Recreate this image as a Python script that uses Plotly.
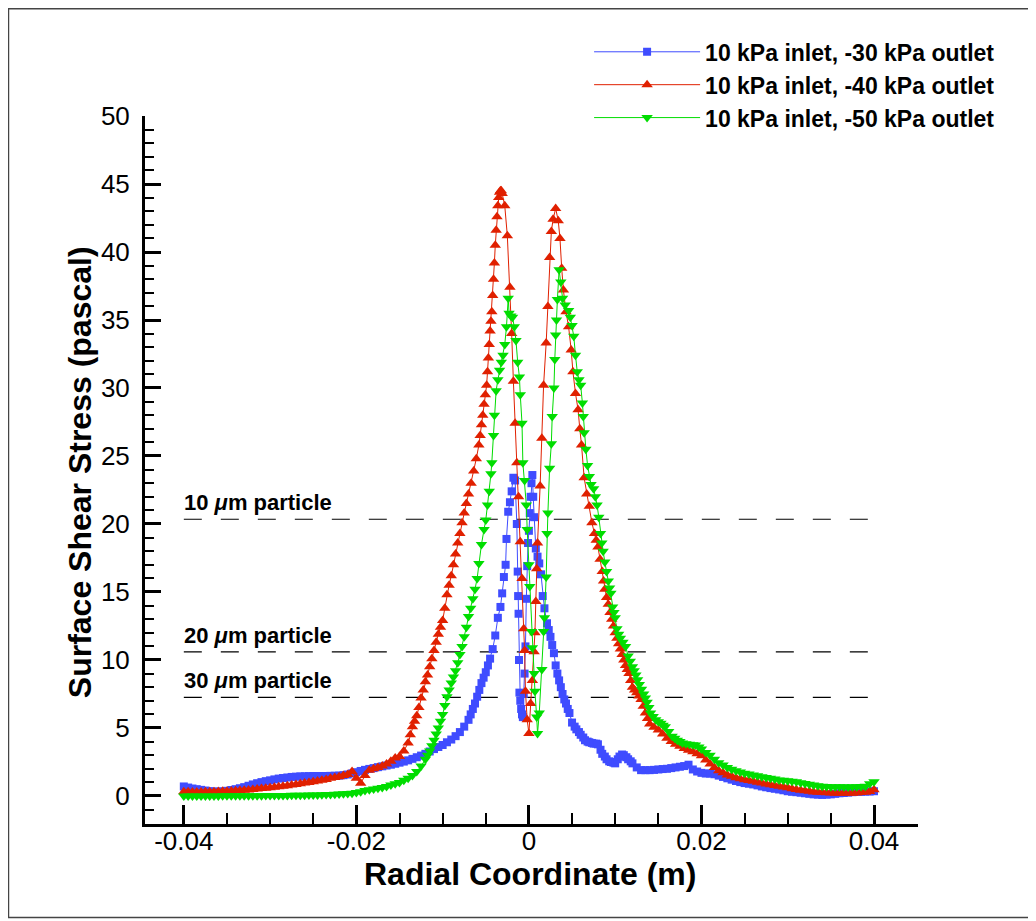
import plotly.graph_objects as go

# radial coordinate (m) and surface shear stress (Pa)
blue_x = [-0.0400, -0.0395, -0.0390, -0.0385, -0.0380, -0.0375, -0.0370, -0.0365, -0.0360, -0.0355,
          -0.0350, -0.0345, -0.0340, -0.0335, -0.0330, -0.0325, -0.0320, -0.0315, -0.0310, -0.0305,
          -0.0300, -0.0295, -0.0290, -0.0285, -0.0280, -0.0275, -0.0270, -0.0265, -0.0260, -0.0255,
          -0.0250, -0.0245, -0.0240, -0.0235, -0.0230, -0.0225, -0.0220, -0.0215, -0.0210, -0.0205,
          -0.0200, -0.0195, -0.0190, -0.0185, -0.0180, -0.0175, -0.0170, -0.0165, -0.0160, -0.0155,
          -0.0150, -0.0145, -0.0140, -0.0135, -0.0130, -0.0125, -0.0120, -0.0115, -0.0110, -0.0105,
          -0.0100, -0.0095, -0.0090, -0.0085, -0.0080, -0.0075, -0.0070, -0.00675, -0.0065, -0.00625,
          -0.0060, -0.00575, -0.0055, -0.00525, -0.0050, -0.00475, -0.0045, -0.0042, -0.0039, -0.0036,
          -0.0033, -0.0031, -0.0029, -0.0027, -0.0026, -0.0024, -0.0022, -0.0020, -0.0018, -0.0016,
          -0.0014, -0.0013, -0.00125, -0.0012, -0.00115, -0.0011, -0.0010, -0.0009, -0.0008, -0.0007,
          -0.0006, -0.0005, -0.0004, -0.0003, -0.0002, -0.0001, 0.0, 0.0001, 0.0002, 0.0003,
          0.0004, 0.0005, 0.0006, 0.0008, 0.0010, 0.0012, 0.0014, 0.0016, 0.0018, 0.0021,
          0.0023, 0.0025, 0.0027, 0.0029, 0.0031, 0.0033, 0.0035, 0.0037, 0.0039, 0.0041,
          0.0043, 0.0045, 0.0047, 0.0050, 0.0053, 0.0055, 0.0058, 0.0060, 0.0063, 0.0065,
          0.0068, 0.0070, 0.0073, 0.0075, 0.0078, 0.0080, 0.0083, 0.0085, 0.0088, 0.0090,
          0.0093, 0.0095, 0.0098, 0.0100, 0.0103, 0.0105, 0.0108, 0.0110, 0.0113, 0.0115,
          0.0118, 0.0120, 0.0125, 0.0130, 0.0135, 0.0140, 0.0145, 0.0150, 0.0155, 0.0160,
          0.0165, 0.0170, 0.0175, 0.0180, 0.0185, 0.0190, 0.0195, 0.0200, 0.0205, 0.0210,
          0.0215, 0.0220, 0.0225, 0.0230, 0.0235, 0.0240, 0.0245, 0.0250, 0.0255, 0.0260,
          0.0265, 0.0270, 0.0275, 0.0280, 0.0285, 0.0290, 0.0295, 0.0300, 0.0305, 0.0310,
          0.0315, 0.0320, 0.0325, 0.0330, 0.0335, 0.0340, 0.0345, 0.0350, 0.0355, 0.0360,
          0.0365, 0.0370, 0.0375, 0.0380, 0.0385, 0.0390, 0.0395, 0.0400]
blue_y = [0.70, 0.62, 0.55, 0.50, 0.45, 0.40, 0.35, 0.33, 0.32, 0.34,
          0.38, 0.44, 0.50, 0.57, 0.65, 0.75, 0.85, 0.94, 1.02, 1.09,
          1.15, 1.22, 1.28, 1.32, 1.36, 1.40, 1.42, 1.44, 1.45, 1.46,
          1.47, 1.47, 1.47, 1.47, 1.48, 1.49, 1.50, 1.53, 1.58, 1.66,
          1.75, 1.84, 1.92, 1.99, 2.05, 2.12, 2.18, 2.24, 2.30, 2.37,
          2.45, 2.53, 2.62, 2.73, 2.85, 2.97, 3.10, 3.27, 3.45, 3.60,
          3.75, 3.95, 4.15, 4.40, 4.70, 5.10, 5.60, 6.00, 6.40, 6.80,
          7.30, 7.80, 8.30, 8.70, 9.10, 9.60, 10.1, 10.8, 11.8, 13.1,
          13.9, 14.9, 16.1, 17.0, 18.9, 20.9, 21.6, 22.4, 23.4, 23.2,
          20.0, 16.5, 14.7, 13.4, 10.0, 7.6, 7.0, 6.4, 6.0, 5.8,
          7.5, 9.0, 11.0, 14.5, 16.9, 18.6, 19.5, 20.8, 22.0, 23.0,
          23.6, 22.0, 20.5, 18.2, 17.6, 17.1, 16.3, 14.7, 13.8, 12.7,
          12.2, 11.7, 11.1, 10.5, 9.6, 9.0, 8.5, 8.0, 7.5, 7.1,
          6.8, 6.4, 6.1, 5.4, 5.1, 4.9, 4.7, 4.5, 4.3, 4.1,
          4.0, 3.95, 3.9, 3.85, 3.85, 3.8, 3.4, 3.1, 2.9, 2.7,
          2.55, 2.5, 2.45, 2.4, 2.7, 2.9, 3.05, 3.0, 2.85, 2.7,
          2.55, 2.4, 2.1, 1.9, 1.9, 1.9, 1.92, 1.95, 1.98, 2.0,
          2.05, 2.1, 2.15, 2.2, 2.3, 1.95, 1.8, 1.7, 1.65, 1.65,
          1.6, 1.5, 1.4, 1.3, 1.2, 1.1, 1.02, 0.95, 0.9, 0.85,
          0.78, 0.7, 0.64, 0.58, 0.53, 0.48, 0.42, 0.35, 0.31, 0.28,
          0.24, 0.2, 0.16, 0.12, 0.1, 0.08, 0.1, 0.12, 0.16, 0.2,
          0.22, 0.25, 0.28, 0.3, 0.31, 0.32, 0.33, 0.35]

red_x = [-0.0400, -0.0395, -0.0390, -0.0385, -0.0380, -0.0375, -0.0370, -0.0365, -0.0360, -0.0355,
         -0.0350, -0.0345, -0.0340, -0.0335, -0.0330, -0.0325, -0.0320, -0.0315, -0.0310, -0.0305,
         -0.0300, -0.0295, -0.0290, -0.0285, -0.0280, -0.0275, -0.0270, -0.0265, -0.0260, -0.0255,
         -0.0250, -0.0245, -0.0240, -0.0235, -0.0230, -0.0225, -0.0220, -0.0215, -0.0210, -0.0205,
         -0.0200, -0.0195, -0.0190, -0.0185, -0.0180, -0.0175, -0.0170, -0.0165, -0.0160, -0.0155,
         -0.0150, -0.0145, -0.0140, -0.01375, -0.0135, -0.01325, -0.0130, -0.01275, -0.0125, -0.01225,
         -0.0120, -0.01175, -0.0115, -0.01125, -0.0110, -0.01075, -0.0105, -0.01025, -0.0100, -0.00975,
         -0.0095, -0.00925, -0.0090, -0.00875, -0.0085, -0.00825, -0.0080, -0.00775, -0.0075, -0.00725,
         -0.0070, -0.0067, -0.0064, -0.0061, -0.0058, -0.00565, -0.0055, -0.00535, -0.0052, -0.00505,
         -0.0049, -0.0048, -0.0047, -0.0046, -0.0045, -0.0044, -0.0043, -0.0042, -0.0041, -0.0040,
         -0.0039, -0.0038, -0.0037, -0.0036, -0.0035, -0.0034, -0.0033, -0.0032, -0.0031, -0.0028,
         -0.0025, -0.0022, -0.0020, -0.0018, -0.0016, -0.0014, -0.0012, -0.0010, -0.0008, -0.0006,
         -0.0005, -0.0004, -0.0002, 0.0, 0.0002, 0.0004, 0.0006, 0.0007, 0.0008, 0.0009,
         0.0010, 0.0013, 0.0015, 0.0017, 0.0020, 0.0022, 0.0024, 0.0026, 0.0028, 0.0031,
         0.0034, 0.0036, 0.0038, 0.0040, 0.0043, 0.0046, 0.0049, 0.0051, 0.0054, 0.0057,
         0.0059, 0.0061, 0.0064, 0.0067, 0.0070, 0.0073, 0.0076, 0.0078, 0.0080, 0.00825,
         0.0085, 0.00865, 0.0088, 0.0090, 0.0092, 0.0094, 0.0096, 0.0098, 0.0100, 0.0102,
         0.0104, 0.0106, 0.0108, 0.0110, 0.0112, 0.0114, 0.0116, 0.0118, 0.0120, 0.01225,
         0.0125, 0.01275, 0.0130, 0.01325, 0.0135, 0.01375, 0.0140, 0.0145, 0.0150, 0.0155,
         0.0160, 0.0165, 0.0170, 0.0175, 0.0180, 0.0185, 0.0190, 0.0195, 0.0200, 0.0205,
         0.0210, 0.0215, 0.0220, 0.0225, 0.0230, 0.0235, 0.0240, 0.0245, 0.0250, 0.0255,
         0.0260, 0.0265, 0.0270, 0.0275, 0.0280, 0.0285, 0.0290, 0.0295, 0.0300, 0.0305,
         0.0310, 0.0315, 0.0320, 0.0325, 0.0330, 0.0335, 0.0340, 0.0345, 0.0350, 0.0355,
         0.0360, 0.0365, 0.0370, 0.0375, 0.0380, 0.0385, 0.0390, 0.0395, 0.0400]
red_y = [0.32, 0.31, 0.30, 0.30, 0.30, 0.31, 0.32, 0.32, 0.33, 0.34,
         0.35, 0.36, 0.38, 0.40, 0.42, 0.44, 0.47, 0.51, 0.55, 0.57,
         0.60, 0.64, 0.68, 0.72, 0.76, 0.80, 0.85, 0.90, 0.95, 1.00,
         1.05, 1.10, 1.15, 1.22, 1.30, 1.36, 1.42, 1.50, 1.58, 1.80,
         1.30, 0.93, 1.50, 1.90, 2.00, 2.10, 2.20, 2.35, 2.55, 2.80,
         2.90, 3.30, 3.90, 4.50, 5.10, 5.50, 5.90, 6.50, 7.20, 7.80,
         8.40, 8.90, 9.50, 10.1, 10.7, 11.3, 11.9, 12.4, 12.9, 13.8,
         14.8, 15.5, 16.2, 17.0, 17.8, 18.6, 19.3, 20.1, 20.8, 21.5,
         22.2, 23.0, 23.9, 24.8, 25.8, 26.5, 27.3, 28.0, 28.8, 29.5,
         30.2, 31.2, 32.2, 33.2, 34.2, 34.9, 35.6, 36.8, 38.0, 39.2,
         40.5, 41.6, 42.6, 43.4, 44.0, 44.4, 44.5, 44.5, 44.3, 43.4,
         41.2, 37.4, 34.0, 30.5, 27.4, 24.5, 22.0, 18.7, 16.0, 12.3,
         10.7, 7.7, 5.6, 4.6, 6.8, 8.5, 10.6, 12.0, 14.3, 16.7,
         18.6, 22.8, 26.3, 30.2, 33.3, 36.0, 39.6, 41.5, 42.4, 43.2,
         42.3, 41.0, 38.8, 37.2, 35.6, 34.5, 32.8, 31.2, 29.6, 28.4,
         27.0, 25.8, 23.4, 22.2, 21.3, 20.1, 19.3, 18.8, 18.3, 17.4,
         16.5, 15.8, 15.2, 14.6, 14.1, 13.5, 13.0, 12.5, 12.0, 11.6,
         11.2, 10.8, 10.4, 10.0, 9.6, 9.3, 9.0, 8.5, 8.0, 7.8,
         7.6, 7.35, 7.1, 6.6, 6.1, 5.7, 5.3, 5.05, 4.85, 4.55,
         4.25, 4.0, 3.8, 3.65, 3.5, 3.37, 3.25, 3.1, 2.95, 2.65,
         2.35, 2.1, 1.85, 1.7, 1.55, 1.45, 1.35, 1.27, 1.2, 1.14,
         1.08, 1.01, 0.95, 0.88, 0.82, 0.77, 0.72, 0.66, 0.6, 0.54,
         0.48, 0.43, 0.38, 0.34, 0.3, 0.27, 0.25, 0.23, 0.22, 0.21,
         0.2, 0.2, 0.2, 0.21, 0.22, 0.25, 0.28, 0.33, 0.45]

green_x = [-0.0400, -0.0395, -0.0390, -0.0385, -0.0380, -0.0375, -0.0370, -0.0365, -0.0360, -0.0355,
           -0.0350, -0.0345, -0.0340, -0.0335, -0.0330, -0.0325, -0.0320, -0.0315, -0.0310, -0.0305,
           -0.0300, -0.0295, -0.0290, -0.0285, -0.0280, -0.0275, -0.0270, -0.0265, -0.0260, -0.0255,
           -0.0250, -0.0245, -0.0240, -0.0235, -0.0230, -0.0225, -0.0220, -0.0215, -0.0210, -0.0205,
           -0.0200, -0.0195, -0.0190, -0.0185, -0.0180, -0.0175, -0.0170, -0.0165, -0.0160, -0.0155,
           -0.0150, -0.0145, -0.0140, -0.0135, -0.0130, -0.0125, -0.0120, -0.01175, -0.0115, -0.01125,
           -0.0110, -0.01075, -0.0105, -0.01025, -0.0100, -0.00975, -0.0095, -0.00925, -0.0090, -0.00875,
           -0.0085, -0.00825, -0.0080, -0.00775, -0.0075, -0.00725, -0.0070, -0.00675, -0.0065, -0.00625,
           -0.0060, -0.0058, -0.0055, -0.0052, -0.0050, -0.0048, -0.0046, -0.0044, -0.0043, -0.0041,
           -0.0040, -0.0038, -0.0036, -0.0034, -0.0032, -0.0030, -0.0028, -0.0026, -0.0024, -0.0023,
           -0.0021, -0.0019, -0.0017, -0.0015, -0.0013, -0.0011, -0.0010, -0.0008, -0.0007, -0.0005,
           -0.0003, -0.0002, 0.0, 0.0001, 0.0003, 0.0004, 0.0006, 0.0007, 0.0009, 0.0010,
           0.0012, 0.0015, 0.0017, 0.0018, 0.0020, 0.0021, 0.0022, 0.0024, 0.0026, 0.0027,
           0.0029, 0.0030, 0.0031, 0.0032, 0.0033, 0.0035, 0.0037, 0.0039, 0.0042, 0.0046,
           0.0048, 0.0050, 0.0052, 0.0054, 0.0056, 0.0058, 0.0060, 0.0062, 0.0063, 0.0064,
           0.0066, 0.0068, 0.0070, 0.0072, 0.0075, 0.0077, 0.0079, 0.0081, 0.0083, 0.00845,
           0.0086, 0.0088, 0.0090, 0.0092, 0.00935, 0.0095, 0.0097, 0.00985, 0.0100, 0.0102,
           0.0104, 0.0106, 0.0109, 0.0112, 0.0115, 0.01175, 0.0120, 0.0122, 0.0124, 0.0126,
           0.0128, 0.01305, 0.0133, 0.0135, 0.0137, 0.0139, 0.0141, 0.0144, 0.0147, 0.0150,
           0.0153, 0.01555, 0.0158, 0.0162, 0.0166, 0.0169, 0.0172, 0.0175, 0.0178, 0.0182,
           0.0186, 0.0190, 0.0193, 0.0197, 0.0200, 0.0205, 0.0210, 0.0215, 0.0220, 0.0225,
           0.0230, 0.0235, 0.0240, 0.0245, 0.0250, 0.0255, 0.0260, 0.0265, 0.0270, 0.0275,
           0.0280, 0.0285, 0.0290, 0.0295, 0.0300, 0.0305, 0.0310, 0.0315, 0.0320, 0.0325,
           0.0330, 0.0335, 0.0340, 0.0345, 0.0350, 0.0355, 0.0360, 0.0365, 0.0370, 0.0375,
           0.0380, 0.0385, 0.0390, 0.0395, 0.0400]
green_y = [0.0, 0.0, 0.0, 0.0, 0.0, 0.0, 0.0, 0.0, 0.0, 0.01,
           0.01, 0.01, 0.01, 0.02, 0.02, 0.02, 0.02, 0.02, 0.02, 0.03,
           0.03, 0.03, 0.03, 0.04, 0.04, 0.05, 0.05, 0.06, 0.06, 0.07,
           0.08, 0.08, 0.09, 0.10, 0.11, 0.12, 0.14, 0.16, 0.18, 0.21,
           0.25, 0.32, 0.40, 0.46, 0.52, 0.57, 0.62, 0.70, 0.80, 0.90,
           1.00, 1.15, 1.30, 1.50, 1.80, 2.20, 2.70, 3.00, 3.30, 3.70,
           4.10, 4.55, 5.00, 5.50, 6.00, 6.65, 7.30, 7.80, 8.30, 8.75,
           9.20, 9.80, 10.4, 11.0, 11.7, 12.4, 13.2, 13.8, 14.5, 15.2,
           16.0, 17.1, 18.5, 19.6, 20.3, 21.4, 22.4, 23.7, 24.5, 26.5,
           28.0, 29.8, 30.6, 31.3, 31.9, 32.4, 33.2, 34.5, 36.6, 35.5,
           35.3, 35.2, 34.5, 33.5, 31.9, 30.8, 29.5, 27.4, 24.5, 23.2,
           21.4, 19.6, 17.0, 15.4, 12.1, 10.9, 9.0, 7.7, 5.8, 4.6,
           6.1, 9.3, 12.1, 13.1, 16.1, 19.3, 20.8, 24.1, 25.9, 27.9,
           30.0, 32.1, 33.9, 35.0, 36.5, 38.7, 37.8, 36.6, 36.1, 35.7,
           35.2, 34.6, 33.8, 32.4, 31.2, 30.6, 30.2, 28.9, 27.9, 26.7,
           25.5, 24.3, 23.5, 22.9, 22.6, 22.0, 21.4, 20.5, 19.3, 18.6,
           18.0, 17.2, 16.5, 15.8, 15.3, 14.9, 13.9, 13.5, 13.1, 12.3,
           11.9, 11.6, 11.3, 11.0, 10.3, 9.9, 9.5, 9.2, 8.9, 8.55,
           8.2, 7.85, 7.5, 7.2, 6.9, 6.5, 6.1, 5.85, 5.6, 5.45,
           5.35, 5.2, 5.1, 4.75, 4.4, 4.25, 4.1, 4.0, 3.9, 3.85,
           3.8, 3.77, 3.75, 3.6, 3.45, 3.2, 3.0, 2.7, 2.45, 2.27,
           2.1, 1.97, 1.85, 1.76, 1.68, 1.61, 1.55, 1.48, 1.42, 1.36,
           1.3, 1.24, 1.18, 1.15, 1.12, 1.08, 1.05, 0.98, 0.92, 0.86,
           0.8, 0.76, 0.72, 0.7, 0.68, 0.68, 0.68, 0.67, 0.66, 0.67,
           0.68, 0.7, 0.72, 0.9, 1.05]

series_names = ["10 kPa inlet, -30 kPa outlet",
                "10 kPa inlet, -40 kPa outlet",
                "10 kPa inlet, -50 kPa outlet"]

# critical shear stress for particle removal
particle_labels = ["10 <i>\u03bc</i>m particle", "20 <i>\u03bc</i>m particle", "30 <i>\u03bc</i>m particle"]
particle_stress = [20.35, 10.6, 7.25]
line_span = [-0.04, 0.04]

x_tickvals = [-0.04, -0.02, 0, 0.02, 0.04]
x_ticktext = ["-0.04", "-0.02", "0", "0.02", "0.04"]
y_tickvals = [0, 5, 10, 15, 20, 25, 30, 35, 40, 45, 50]

FONT = "Liberation Sans, Arial, Helvetica, sans-serif"

fig = go.Figure()

for yv in particle_stress:
    fig.add_trace(go.Scatter(x=line_span, y=[yv, yv], mode="lines",
                             line=dict(color="black", width=1.2, dash="18px,19px"),
                             showlegend=False, hoverinfo="skip"))

styles = [("#3f4cff", "square", 8), ("#e02000", "triangle-up", 10), ("#00dd00", "triangle-down", 10)]
for (xs, ys), name, (col, sym, sz) in zip([(blue_x, blue_y), (red_x, red_y), (green_x, green_y)],
                                          series_names, styles):
    fig.add_trace(go.Scatter(x=xs, y=ys, name=name, mode="lines+markers", legendgroup=name,
                             line=dict(color=col, width=1),
                             marker=dict(symbol=sym, size=sz, color=col, line=dict(width=0))))

for lab, yv in zip(particle_labels, particle_stress):
    fig.add_annotation(x=line_span[0], y=yv, text=lab, showarrow=False,
                       xanchor="left", yanchor="bottom", yshift=2, xshift=-2,
                       font=dict(family=FONT, size=22, color="black", weight="bold"))

fig.add_annotation(xref="paper", yref="paper", x=0.498, y=-0.071, text="Radial Coordinate (m)",
                   showarrow=False, xanchor="center", yanchor="middle",
                   font=dict(family=FONT, size=32, color="black", weight="bold"))
fig.add_annotation(xref="paper", yref="paper", x=-0.084, y=0.497, text="Surface Shear Stress (pascal)",
                   showarrow=False, textangle=-90, xanchor="center", yanchor="middle",
                   font=dict(family=FONT, size=32, color="black", weight="bold"))

# frame around the whole picture
fig.add_shape(type="rect", xref="paper", yref="paper", x0=-0.1766, x1=1.16, y0=-0.132, y1=1.1515,
              line=dict(color="#444", width=1.5), layer="below")

fig.update_layout(
    width=1028, height=913, autosize=False,
    margin=dict(l=137, r=118, t=108, b=97),
    paper_bgcolor="white", plot_bgcolor="white",
    font=dict(family=FONT, color="black"),
    legend=dict(x=0.5745, y=1.121, xanchor="left", yanchor="top", itemwidth=106,
                tracegroupgap=0, bgcolor="rgba(0,0,0,0)",
                font=dict(family=FONT, size=23, color="black", weight="bold")),
    xaxis=dict(range=[-0.0445, 0.0451], showline=True, linewidth=3, linecolor="black",
               showgrid=False, zeroline=False, ticks="inside", ticklen=19, tickwidth=3,
               tickcolor="black", tickvals=x_tickvals, ticktext=x_ticktext,
               tickfont=dict(size=26), ticklabelstandoff=-8,
               minor=dict(ticks="inside", ticklen=11, tickwidth=2, tickcolor="black",
                          dtick=0.005, tick0=0, showgrid=False)),
    yaxis=dict(range=[-2.06, 50], showline=True, linewidth=3, linecolor="black",
               showgrid=False, zeroline=False, ticks="inside", ticklen=16, tickwidth=3,
               tickcolor="black", tickvals=y_tickvals,
               tickfont=dict(size=26), ticklabelstandoff=7,
               minor=dict(ticks="inside", ticklen=9, tickwidth=2, tickcolor="black",
                          dtick=1, tick0=0, showgrid=False)),
)

fig.write_html("out.html")
